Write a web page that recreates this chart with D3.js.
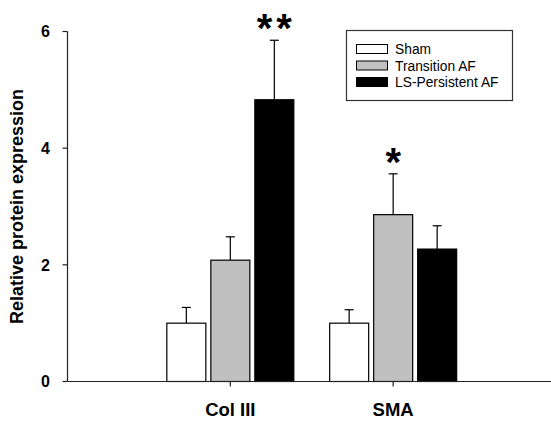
<!DOCTYPE html>
<html>
<head>
<meta charset="utf-8">
<script src="https://cdn.jsdelivr.net/npm/d3@7"></script>
<style>
  html, body { margin: 0; padding: 0; background: #fff; }
  svg { display: block; font-family: "Liberation Sans", Arial, sans-serif; }
</style>
</head>
<body>
<svg id="chart"></svg>
<script>
// Grouped bar chart: relative protein expression, Col III and SMA, three groups each.
const categories = ["Col III", "SMA"];
const groups = ["Sham", "Transition AF", "LS-Persistent AF"];
const groupFill = ["#ffffff", "#c0c0c0", "#000000"];

// means and upper error (SEM), one array per group
const sham       = [1.00, 1.00];
const shamErr    = [0.27, 0.23];
const transition = [2.08, 2.86];
const transErr   = [0.40, 0.70];
const persistent = [4.83, 2.27];
const persErr    = [1.02, 0.40];

// significance marks: [category index, group index, label]
const stars = [[0, 2, "**"], [1, 1, "*"]];

const yTicks = [0, 2, 4, 6];

(function () {
  const W = 551, H = 424;
  const svg = d3.select("#chart").attr("width", W).attr("height", H);

  const values = [sham, transition, persistent];
  const errors = [shamErr, transErr, persErr];

  // x: categories sit at 1 and 2 on a 0..3 span
  const x = d3.scaleLinear().domain([0, 3]).range([67.5, 556]);
  const y = d3.scaleLinear().domain([0, 6]).range([381.5, 31.5]);
  const barW = 39, step = 44;

  // bars + error bars
  groups.forEach((grp, gi) => {
    categories.forEach((cat, ci) => {
      const cx = x(ci + 1) + (gi - 1) * step;
      const v = values[gi][ci], e = errors[gi][ci];
      svg.append("line")
        .attr("x1", cx).attr("x2", cx)
        .attr("y1", y(v)).attr("y2", y(v + e))
        .attr("stroke", "#000").attr("stroke-width", 1.2);
      svg.append("line")
        .attr("x1", cx - 4.5).attr("x2", cx + 4.5)
        .attr("y1", y(v + e)).attr("y2", y(v + e))
        .attr("stroke", "#000").attr("stroke-width", 1.2);
      svg.append("rect")
        .attr("x", cx - barW / 2).attr("y", y(v))
        .attr("width", barW).attr("height", y(0) - y(v))
        .attr("fill", groupFill[gi])
        .attr("stroke", "#000").attr("stroke-width", 1.2);
    });
  });

  // asterisks, sitting just above the error cap
  stars.forEach(([ci, gi, lab]) => {
    const cx = x(ci + 1) + (gi - 1) * step;
    const top = values[gi][ci] + errors[gi][ci];
    svg.append("text")
      .attr("x", cx + (lab.length > 1 ? 2 : 0)).attr("y", y(top) + 2)
      .attr("text-anchor", "middle")
      .attr("font-size", 40).attr("font-weight", 700)
      .attr("letter-spacing", lab.length > 1 ? "4px" : null)
      .text(lab);
  });

  // y axis
  svg.append("line")
    .attr("x1", x(0)).attr("x2", x(0))
    .attr("y1", y(6)).attr("y2", y(0))
    .attr("stroke", "#222").attr("stroke-width", 1.2);
  yTicks.forEach(t => {
    svg.append("line")
      .attr("x1", x(0) - 5).attr("x2", x(0))
      .attr("y1", y(t)).attr("y2", y(t))
      .attr("stroke", "#222").attr("stroke-width", 1.2);
    svg.append("text")
      .attr("x", 50).attr("y", y(t)).attr("dy", "0.36em")
      .attr("text-anchor", "end")
      .attr("font-size", 16).attr("font-weight", 700)
      .text(t);
  });

  // x axis
  svg.append("line")
    .attr("x1", x(0)).attr("x2", x(3))
    .attr("y1", y(0)).attr("y2", y(0))
    .attr("stroke", "#222").attr("stroke-width", 1.2);
  categories.forEach((cat, ci) => {
    svg.append("line")
      .attr("x1", x(ci + 1)).attr("x2", x(ci + 1))
      .attr("y1", y(0)).attr("y2", y(0) + 5)
      .attr("stroke", "#222").attr("stroke-width", 1.2);
    svg.append("text")
      .attr("x", x(ci + 1)).attr("y", 416)
      .attr("text-anchor", "middle")
      .attr("font-size", 18.5).attr("font-weight", 700)
      .text(cat);
  });

  // y label
  svg.append("text")
    .attr("transform", `translate(23,${(y(0) + y(6)) / 2}) rotate(-90)`)
    .attr("text-anchor", "middle")
    .attr("font-size", 18).attr("font-weight", 700)
    .text("Relative protein expression");

  // legend
  const lg = svg.append("g").attr("transform", "translate(346,30)");
  lg.append("rect")
    .attr("x", 0.5).attr("y", 0.5).attr("width", 166).attr("height", 70)
    .attr("fill", "#fff").attr("stroke", "#333").attr("stroke-width", 1.2);
  groups.forEach((grp, gi) => {
    const cy = 19.5 + gi * 16.5;
    lg.append("rect")
      .attr("x", 10.5).attr("y", cy - 5).attr("width", 31).attr("height", 9)
      .attr("fill", groupFill[gi]).attr("stroke", "#000").attr("stroke-width", 1);
    lg.append("text")
      .attr("x", 49).attr("y", cy).attr("dy", "0.36em")
      .attr("font-size", 13.8)
      .text(grp);
  });
})();
</script>
</body>
</html>
